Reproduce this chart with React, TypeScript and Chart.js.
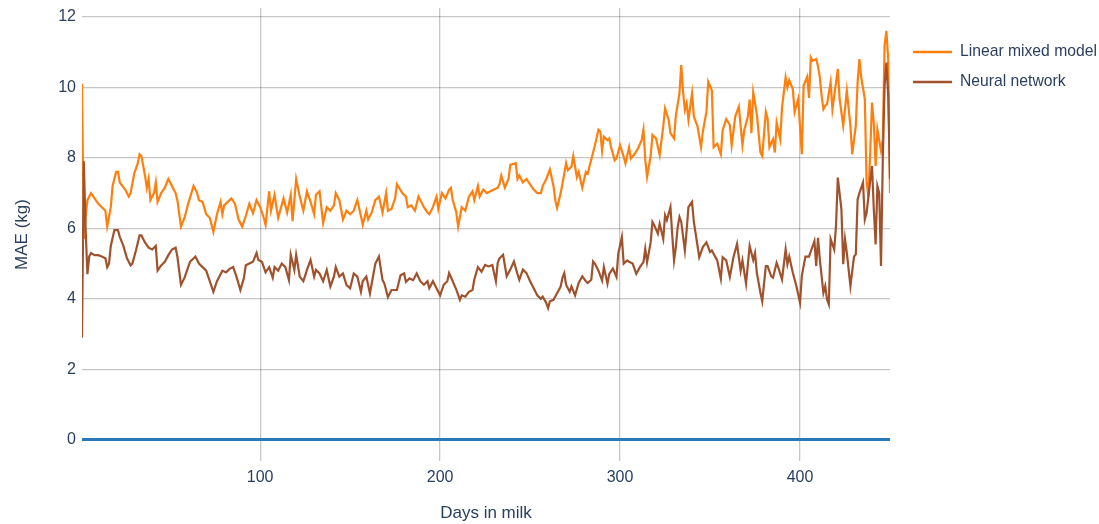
import React, { useEffect, useRef } from "react";
import { Chart, registerables } from "chart.js";

Chart.register(...registerables);

const seriesNames = ["Linear mixed model", "Neural network"];
const seriesColors = ["#ff7f0e", "#a0522d"];
const xTickValues = [100, 200, 300, 400];
const yTickValues = [0, 2, 4, 6, 8, 10, 12];

const lmmDays = [
  1, 2, 3, 4, 6, 8, 10, 12, 14, 15, 17, 18, 20, 21, 22, 25, 27, 28, 30, 32, 33, 34, 36, 37, 38, 39, 41, 42, 43, 45,
  47, 49, 51, 53, 54, 56, 58, 60, 63, 65, 66, 68, 70, 72, 74, 76, 78, 79, 80, 82, 84, 86, 88, 90, 92, 94, 96, 98, 100,
  102, 103, 105, 106, 108, 110, 113, 115, 117, 118, 120, 122, 124, 126, 128, 130, 131, 133, 135, 137, 139, 141, 142,
  144, 146, 148, 150, 152, 154, 156, 157, 159, 160, 162, 164, 166, 168, 170, 171, 173, 175, 176, 179, 181, 182, 184,
  186, 188, 191, 193, 194, 196, 198, 199, 201, 203, 205, 206, 207, 209, 210, 212, 214, 216, 218, 219, 221, 222, 224,
  226, 228, 230, 232, 233, 234, 236, 238, 239, 242, 243, 244, 246, 248, 250, 252, 254, 256, 257, 259, 261, 263, 264,
  265, 267, 269, 270, 271, 273, 274, 276, 277, 279, 281, 282, 284, 286, 288, 289, 290, 291, 293, 294, 295, 297, 298,
  300, 302, 303, 305, 306, 308, 310, 312, 313, 314, 315, 317, 318, 320, 322, 324, 325, 327, 328, 330, 331, 333, 334,
  335, 336, 337, 338, 340, 341, 343, 345, 346, 348, 349, 351, 352, 354, 356, 357, 359, 361, 362, 364, 366, 368, 369,
  371, 372, 373, 374, 376, 378, 379, 381, 382, 383, 385, 386, 387, 389, 390, 392, 393, 394, 396, 397, 399, 401, 402,
  404, 405, 406, 407, 409, 410, 411, 412, 413, 414, 415, 417, 418, 419, 421, 422, 424, 425, 426, 428, 429, 431, 432,
  433, 434, 436, 437, 438, 439, 440, 441, 442, 443, 444, 445, 446, 447, 448, 449, 450,
];
const lmmValues = [
  10.1, 5.7, 6.3, 6.8, 7.0, 6.85, 6.7, 6.6, 6.5, 6.05, 6.6, 7.2, 7.6, 7.6, 7.3, 7.1, 6.9, 7.0, 7.55, 7.85, 8.1, 8.05,
  7.5, 7.15, 7.4, 6.8, 7.0, 7.3, 6.75, 7.0, 7.15, 7.4, 7.2, 7.0, 6.8, 6.05, 6.3, 6.7, 7.2, 7.0, 6.8, 6.75, 6.4, 6.3,
  5.9, 6.4, 6.75, 6.4, 6.65, 6.75, 6.85, 6.7, 6.25, 6.05, 6.35, 6.7, 6.43, 6.8, 6.6, 6.3, 6.1, 7.05, 6.5, 6.95, 6.3,
  6.85, 6.45, 6.95, 6.2, 7.4, 6.9, 6.5, 7.05, 6.75, 6.4, 6.95, 7.05, 6.15, 6.6, 6.5, 6.65, 7.0, 6.8, 6.25, 6.5, 6.4,
  6.5, 6.8, 6.35, 6.1, 6.5, 6.25, 6.45, 6.8, 6.9, 6.45, 7.0, 6.5, 6.55, 6.85, 7.25, 7.0, 6.9, 6.6, 6.65, 6.5, 6.9,
  6.6, 6.45, 6.4, 6.6, 6.9, 6.55, 7.0, 6.85, 7.1, 7.15, 6.8, 6.45, 6.05, 6.6, 6.5, 6.9, 7.05, 6.8, 7.2, 6.9, 7.1, 7.0,
  7.05, 7.1, 7.15, 7.25, 7.5, 7.15, 7.4, 7.8, 7.85, 7.4, 7.5, 7.3, 7.4, 7.25, 7.1, 7.0, 7.0, 7.2, 7.4, 7.67, 7.2, 6.8,
  6.58, 7.0, 7.55, 7.85, 7.65, 7.75, 8.05, 7.45, 7.6, 7.15, 7.6, 7.55, 7.95, 8.35, 8.8, 8.75, 8.2, 8.6, 8.5, 8.55,
  8.3, 7.93, 7.98, 8.36, 8.03, 7.84, 8.3, 7.98, 8.1, 8.27, 8.5, 8.8, 7.95, 7.46, 8.05, 8.65, 8.55, 8.08, 8.89, 9.4,
  9.08, 8.7, 8.55, 9.2, 9.83, 10.63, 9.88, 9.36, 9.55, 9.08, 9.83, 9.17, 8.9, 8.3, 8.74, 9.31, 10.16, 9.92, 8.3, 8.4,
  8.1, 8.78, 9.1, 8.93, 8.36, 9.17, 9.45, 8.36, 8.78, 9.17, 9.65, 8.7, 9.86, 9.24, 8.15, 8.05, 9.3, 9.1, 8.3, 8.53,
  8.15, 9.0, 8.53, 9.43, 10.28, 10.0, 10.2, 9.95, 9.3, 9.67, 8.1, 10.05, 10.3, 9.7, 10.85, 10.75, 10.8, 10.6, 10.28,
  9.76, 9.38, 9.48, 9.52, 10.14, 9.38, 9.76, 10.52, 9.67, 8.91, 9.38, 9.9, 8.91, 8.1, 8.91, 10.14, 10.8, 10.28, 9.67,
  7.3, 6.9, 8.15, 9.57, 9.0, 7.77, 8.8, 8.5, 8.2, 8.53, 11.2, 11.6, 10.8, 7.0,
];

const nnDays = [
  1, 2, 3, 4, 5, 6, 8, 10, 12, 14, 15, 16, 17, 19, 21, 22, 24, 26, 28, 29, 31, 33, 34, 36, 38, 40, 42, 43, 45, 47, 49,
  51, 53, 54, 56, 58, 61, 64, 66, 68, 70, 72, 74, 76, 78, 79, 81, 83, 85, 87, 89, 91, 92, 94, 96, 98, 99, 101, 103,
  105, 107, 108, 110, 112, 114, 116, 117, 119, 120, 122, 124, 126, 128, 130, 131, 133, 135, 137, 139, 141, 142, 144,
  146, 148, 150, 152, 154, 156, 157, 159, 161, 163, 164, 166, 168, 169, 171, 173, 176, 178, 180, 181, 183, 185, 187,
  189, 191, 193, 194, 196, 198, 200, 202, 204, 205, 207, 209, 211, 212, 214, 216, 218, 219, 221, 223, 225, 227, 229,
  231, 232, 233, 235, 237, 239, 241, 243, 244, 246, 248, 250, 252, 254, 256, 257, 259, 260, 261, 263, 265, 267, 268,
  269, 270, 272, 273, 275, 277, 279, 281, 282, 284, 285, 286, 288, 290, 291, 293, 294, 296, 298, 299, 301, 302, 304,
  305, 307, 309, 311, 313, 314, 315, 317, 318, 319, 321, 322, 324, 325, 326, 328, 329, 330, 331, 332, 333, 334, 336,
  337, 338, 340, 341, 343, 344, 346, 348, 350, 351, 354, 356, 357, 359, 361, 363, 365, 367, 368, 370, 372, 374, 375,
  376, 378, 379, 381, 382, 384, 385, 387, 388, 390, 392, 393, 394, 396, 398, 400, 401, 403, 405, 406, 408, 409, 410,
  411, 413, 414, 415, 416, 417, 419, 420, 421, 423, 424, 425, 426, 428, 430, 431, 432, 433, 435, 436, 437, 439, 440,
  441, 442, 443, 444, 445, 446, 447, 448, 449, 450,
];
const nnValues = [
  2.9, 7.9, 6.0, 4.7, 5.2, 5.3, 5.24, 5.24, 5.2, 5.15, 4.9, 5.0, 5.5, 5.95, 5.95, 5.76, 5.5, 5.15, 4.95, 5.0, 5.38,
  5.8, 5.8, 5.6, 5.45, 5.4, 5.5, 4.8, 4.95, 5.05, 5.24, 5.4, 5.45, 5.2, 4.4, 4.6, 5.05, 5.2, 5.0, 4.9, 4.8, 4.5, 4.2,
  4.5, 4.7, 4.8, 4.75, 4.85, 4.9, 4.6, 4.25, 4.6, 4.95, 5.0, 5.05, 5.3, 5.1, 5.05, 4.75, 4.9, 4.6, 4.9, 4.8, 5.0, 4.9,
  4.53, 5.25, 4.82, 5.25, 4.63, 4.5, 4.82, 5.1, 4.63, 4.82, 4.72, 4.5, 4.82, 4.35, 4.63, 4.9, 4.63, 4.72, 4.39, 4.3,
  4.72, 4.63, 4.2, 4.5, 4.63, 4.15, 4.72, 5.0, 5.2, 4.53, 4.44, 4.05, 4.25, 4.25, 4.67, 4.72, 4.48, 4.58, 4.53, 4.72,
  4.5, 4.4, 4.5, 4.3, 4.5, 4.3, 4.1, 4.4, 4.5, 4.73, 4.5, 4.26, 3.97, 4.1, 4.06, 4.2, 4.25, 4.55, 4.9, 4.77, 4.96,
  4.92, 4.96, 4.5, 5.02, 5.15, 5.25, 4.64, 4.83, 5.06, 4.7, 4.54, 4.83, 4.73, 4.5, 4.3, 4.1, 4.0, 4.06, 3.88, 3.74,
  3.93, 3.97, 4.16, 4.35, 4.6, 4.73, 4.4, 4.2, 4.35, 4.1, 4.45, 4.64, 4.5, 4.45, 4.54, 5.06, 5.0, 4.8, 4.52, 4.9,
  4.43, 4.71, 4.86, 4.62, 5.28, 5.75, 5.0, 5.09, 5.05, 5.0, 4.71, 4.9, 5.04, 5.42, 5.04, 5.6, 6.18, 6.09, 5.85, 6.13,
  5.7, 6.37, 6.23, 6.6, 5.8, 5.09, 5.47, 6.03, 6.32, 6.18, 5.37, 5.94, 6.6, 6.75, 6.18, 5.52, 5.18, 5.47, 5.6, 5.33,
  5.37, 5.09, 4.57, 5.18, 5.09, 4.62, 5.18, 5.56, 4.8, 5.09, 4.43, 5.5, 5.1, 5.3, 4.74, 4.17, 3.93, 4.93, 4.93, 4.64,
  4.6, 5.02, 4.88, 4.55, 5.4, 4.98, 5.2, 4.74, 4.36, 3.89, 4.65, 5.2, 5.2, 5.35, 5.64, 4.93, 5.73, 5.12, 4.17, 4.36,
  3.98, 3.84, 5.7, 5.4, 6.07, 7.44, 6.54, 4.98, 5.69, 5.31, 4.36, 5.2, 5.26, 6.82, 7.0, 7.3, 6.25, 6.44, 7.35, 7.77,
  6.54, 5.54, 7.2, 7.0, 4.93, 7.96, 10.05, 10.7, 9.76, 7.4,
];

const FONT = '"Liberation Sans", Arial, sans-serif';
const TEXT = "#2a3f5f";
const GRID = "rgba(0,0,0,0.22)";

export default function App() {
  const ref = useRef<HTMLCanvasElement>(null);

  useEffect(() => {
    if (!ref.current) return;
    const legendPlugin = {
      id: "sideLegend",
      afterDraw(chart: any) {
        const { ctx, chartArea } = chart;
        ctx.save();
        seriesNames.forEach((name, i) => {
          const y = 52 + i * 30;
          const x0 = chartArea.right + 23;
          ctx.strokeStyle = seriesColors[i];
          ctx.lineWidth = 2.5;
          ctx.beginPath();
          ctx.moveTo(x0, y);
          ctx.lineTo(x0 + 39, y);
          ctx.stroke();
          ctx.fillStyle = TEXT;
          ctx.font = `15.7px ${FONT}`;
          ctx.textBaseline = "middle";
          ctx.textAlign = "left";
          ctx.fillText(name, x0 + 47, y);
        });
        ctx.restore();
      },
    };

    const chart = new Chart(ref.current, {
      type: "line",
      data: {
        datasets: [
          {
            label: seriesNames[0],
            data: lmmDays.map((d, i) => ({ x: d, y: lmmValues[i] })),
            borderColor: seriesColors[0],
            backgroundColor: seriesColors[0],
            borderWidth: 2.2,
            pointRadius: 0,
            tension: 0,
            order: 1,
          },
          {
            label: seriesNames[1],
            data: nnDays.map((d, i) => ({ x: d, y: nnValues[i] })),
            borderColor: seriesColors[1],
            backgroundColor: seriesColors[1],
            borderWidth: 2.2,
            pointRadius: 0,
            tension: 0,
            order: 0,
          },
        ],
      },
      options: {
        animation: false,
        responsive: false,
        maintainAspectRatio: false,
        layout: { padding: { top: 8, right: 209, left: 0, bottom: 0 } },
        plugins: { legend: { display: false }, tooltip: { enabled: false } },
        scales: {
          x: {
            type: "linear",
            min: 1,
            max: 450,
            afterBuildTicks: (s: any) => {
              s.ticks = xTickValues.map((v) => ({ value: v }));
            },
            afterFit: (s: any) => {
              s.height = 63;
              s.paddingLeft = 0;
              s.paddingRight = 0;
            },
            grid: { color: GRID, lineWidth: 1.3, drawTicks: false },
            border: { display: false },
            ticks: {
              font: { family: FONT, size: 16 },
              color: TEXT,
              padding: 7,
              maxRotation: 0,
              autoSkip: false,
            },
            title: {
              display: true,
              text: "Days in milk",
              font: { family: FONT, size: 17 },
              color: TEXT,
              padding: { top: 0, bottom: 0 },
            },
          },
          y: {
            min: -0.6,
            max: 12.25,
            afterBuildTicks: (s: any) => {
              s.ticks = yTickValues.map((v) => ({ value: v }));
            },
            afterFit: (s: any) => {
              s.width = 82;
              s.paddingTop = 0;
              s.paddingBottom = 0;
            },
            grid: {
              color: (c: any) => (c.tick && c.tick.value === 0 ? "#2b78b8" : GRID),
              lineWidth: (c: any) => (c.tick && c.tick.value === 0 ? 3 : 1.3),
              drawTicks: false,
            },
            border: { display: false },
            ticks: {
              font: { family: FONT, size: 16 },
              color: TEXT,
              padding: 6,
            },
            title: {
              display: true,
              text: "MAE (kg)",
              font: { family: FONT, size: 17 },
              color: TEXT,
              padding: { top: 12, bottom: 0 },
            },
          },
        },
      },
      plugins: [legendPlugin],
    });
    return () => chart.destroy();
  }, []);

  return (
    <div style={{ position: "fixed", left: 0, top: 0, width: 1099, height: 524, background: "#fff" }}>
      <canvas ref={ref} width={1099} height={524} style={{ width: 1099, height: 524, display: "block" }} />
    </div>
  );
}
